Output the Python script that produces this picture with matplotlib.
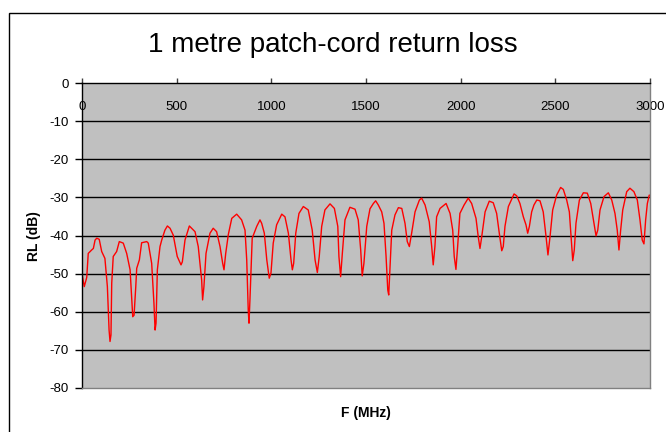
import numpy as np
import matplotlib.pyplot as plt
from matplotlib.patches import Rectangle

# frequency (MHz) and return loss (dB)
freq = [0, 12, 25, 33, 51, 60, 69, 78, 91, 104, 121, 134, 143, 148, 153, 157, 165, 183,
        197, 218, 236, 254, 262, 268, 275, 284, 289, 303, 315, 342, 350, 368, 380, 386,
        391, 398, 412, 421, 438, 451, 465, 482, 503, 523, 530, 544, 567, 597, 614, 632,
        637, 644, 655, 676, 693, 711, 729, 743, 750, 759, 773, 791, 817, 843, 861, 870,
        878, 882, 887, 899, 923, 940, 949, 963, 976, 989, 998, 1010, 1028, 1055, 1072,
        1090, 1104, 1111, 1118, 1129, 1146, 1169, 1195, 1216, 1231, 1243, 1253, 1266,
        1283, 1310, 1333, 1351, 1357, 1366, 1375, 1389, 1415, 1442, 1459, 1472, 1480,
        1489, 1504, 1521, 1539, 1551, 1565, 1583, 1595, 1606, 1615, 1620, 1627, 1636,
        1653, 1671, 1689, 1706, 1718, 1729, 1741, 1759, 1782, 1794, 1812, 1834, 1847,
        1855, 1864, 1873, 1891, 1923, 1944, 1958, 1966, 1975, 1984, 1996, 2018, 2040,
        2058, 2081, 2093, 2102, 2111, 2129, 2151, 2172, 2190, 2204, 2217, 2225, 2234,
        2252, 2282, 2296, 2313, 2331, 2345, 2354, 2363, 2375, 2387, 2402, 2419, 2436,
        2451, 2461, 2472, 2486, 2507, 2528, 2542, 2560, 2574, 2583, 2592, 2600, 2609,
        2627, 2648, 2669, 2687, 2701, 2715, 2724, 2736, 2757, 2780, 2798, 2815, 2827,
        2836, 2845, 2856, 2877, 2894, 2915, 2933, 2947, 2959, 2968, 2977, 2986, 2996, 3000]
rl = [-50, -53.4, -51, -44.7, -43.8, -43.4, -41.2, -40.7, -41, -44.2, -46, -53.4, -64.8,
      -67.8, -66.1, -52.5, -45.5, -44.2, -41.6, -42, -44.7, -49, -56, -61.3, -60.9, -53.4,
      -48.6, -46.4, -41.9, -41.6, -42, -47.3, -57.8, -64.8, -63, -49, -42.9, -41.2, -38.6,
      -37.5, -38.1, -39.9, -45.5, -47.7, -46.9, -41.2, -37.5, -39, -42.9, -51.7, -56.9,
      -53.4, -44.7, -39.4, -38.1, -39, -42.9, -47.3, -49, -44.7, -39.7, -35.5, -34.4,
      -35.9, -38.6, -46.4, -59.5, -63, -56.9, -40.7, -37.6, -35.9, -36.8, -39.4, -46.4,
      -51.2, -49.9, -42, -37.2, -34.4, -35.1, -39.4, -46.4, -49, -47.3, -39.4, -34.2,
      -32.4, -33.3, -38.6, -46.4, -49.7, -45.5, -37.6, -33.3, -31.7, -32.9, -37.6, -45.5,
      -50.8, -44.7, -35.9, -32.6, -33.1, -35.9, -43.8, -50.6, -47.3, -37.6, -33, -31.6,
      -30.9, -32, -33.8, -36.8, -45.5, -54.3, -55.6, -48.2, -38.6, -34.6, -32.7, -32.9,
      -36.8, -41.6, -42.9, -39.4, -33.8, -30.7, -30.2, -32, -36.4, -42.9, -47.7, -42.9,
      -35.1, -32.9, -31.6, -34.2, -38.6, -45.5, -48.9, -42.9, -34.2, -32, -30.2, -31.6,
      -35.5, -40.4, -43.4, -40.4, -33.8, -31, -31.4, -34.2, -39.4, -44, -42.9, -37.6,
      -32.4, -29.1, -29.6, -31.6, -35.1, -37.2, -39.4, -37.6, -33.8, -32, -30.7, -30.9,
      -33.8, -40.3, -45.1, -40.3, -33.3, -29.4, -27.4, -27.9, -30.7, -33.8, -40.3, -46.6,
      -43.8, -36.8, -30.7, -28.8, -28.9, -31.6, -35.9, -40.1, -38.6, -33.3, -29.8, -28.8,
      -30.7, -34.2, -38.6, -43.8, -38.6, -33.3, -28.5, -27.6, -28.5, -30.7, -35.9, -41.2,
      -42.2, -35.9, -31.6, -29.4, -29.5]

xticks = [0, 500, 1000, 1500, 2000, 2500, 3000]
yticks = [0, -10, -20, -30, -40, -50, -60, -70, -80]

plt.rcParams['font.family'] = ['Liberation Sans', 'DejaVu Sans']

W, H = 666, 432
fig = plt.figure(figsize=(W/100, H/100), dpi=100)
ax = fig.add_axes([82/W, 1-388/H, 568/W, 305/H])
ax.set_facecolor('#c0c0c0')

ax.plot(freq, rl, color='#ff0000', lw=1)

ax.set_xlim(0, 3000)
ax.set_ylim(-80, 0)
ax.set_yticks(yticks)
ax.set_yticklabels([str(v) for v in yticks], fontsize=9.5)
for v in yticks[1:-1]:
    ax.axhline(v, color='black', lw=1, zorder=1)

# x axis crosses at 0 dB, so ticks sit on the top edge, labels just below it
ax.xaxis.tick_top()
ax.set_xticks(xticks)
ax.set_xticklabels([str(v) for v in xticks], fontsize=9.5)
ax.tick_params(axis='x', direction='out', length=3.5, pad=-16.5, width=1, color='#404040')
for lab in ax.get_xticklabels():
    lab.set_va('top')
ax.tick_params(axis='y', direction='out', length=5, width=1, pad=4.5)

ax.spines['left'].set_color('black')
ax.spines['top'].set_color('black')
ax.spines['right'].set_color('#808080')
ax.spines['bottom'].set_color('#808080')
for s in ax.spines.values():
    s.set_linewidth(1)

fig.text(0.5, 1-52/H, '1 metre patch-cord return loss', ha='center', va='baseline',
         fontsize=20)
fig.text(366/W, 1-413/H, 'F (MHz)', ha='center', va='center', fontsize=10,
         fontweight='bold')
fig.text(34/W, 1-236/H, 'RL (dB)', ha='center', va='center', fontsize=10,
         fontweight='bold', rotation=90)

fig.add_artist(Rectangle((8.5/W, -0.1), 1.2, 1-12.5/H+0.1, transform=fig.transFigure,
                         fill=False, ec='black', lw=1))

plt.savefig('out.png', dpi=100)
